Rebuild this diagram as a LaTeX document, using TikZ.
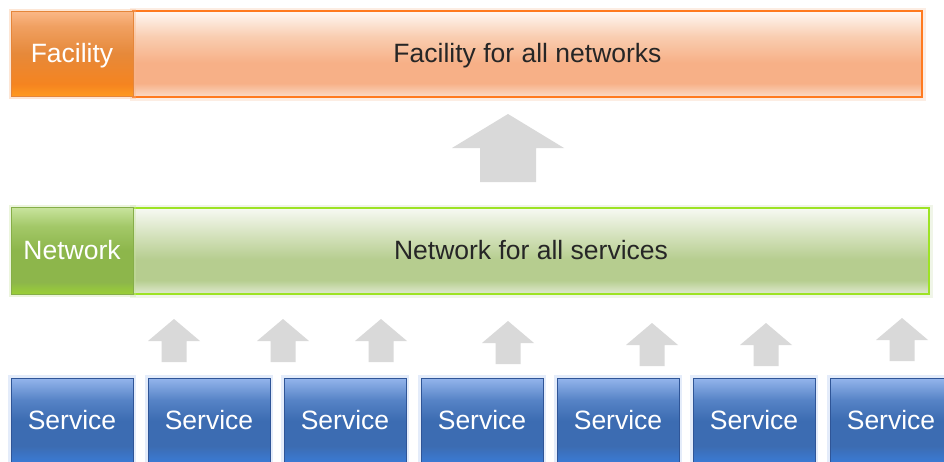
\documentclass[tikz,border=0pt]{standalone}
\usepackage{fontspec}
\setmainfont{Liberation Sans}
\definecolor{fl0}{HTML}{FBB887}
\definecolor{fl1}{HTML}{F0A061}
\definecolor{fl2}{HTML}{E6893A}
\definecolor{fl3}{HTML}{F58420}
\definecolor{fl4}{HTML}{FF9A20}
\definecolor{fm0}{HTML}{FFF8F4}
\definecolor{fm1}{HTML}{F9CDB0}
\definecolor{fm2}{HTML}{F7B087}
\definecolor{fm3}{HTML}{FBDCC8}
\definecolor{nl0}{HTML}{C9E49E}
\definecolor{nl1}{HTML}{A3C868}
\definecolor{nl2}{HTML}{8DB64B}
\definecolor{nl3}{HTML}{9ACF36}
\definecolor{nm0}{HTML}{F7F9F3}
\definecolor{nm1}{HTML}{D6E3BF}
\definecolor{nm2}{HTML}{B6CD8F}
\definecolor{nm3}{HTML}{E0EAD0}
\definecolor{sv0}{HTML}{94B5EC}
\definecolor{sv1}{HTML}{5683C6}
\definecolor{sv2}{HTML}{3C6CB2}
\definecolor{sv3}{HTML}{3A7BD6}
\definecolor{facborder}{HTML}{FF7A1F}
\definecolor{faclborder}{HTML}{E5863A}
\definecolor{netborder}{HTML}{9DE324}
\definecolor{netlborder}{HTML}{86AE48}
\definecolor{svborder}{HTML}{2F5597}
\definecolor{arrowgray}{HTML}{D9D9D9}
\definecolor{maintext}{HTML}{262626}
\pgfdeclareverticalshading{facLabShade}{100bp}{color(0bp)=(fl4); color(25bp)=(fl4); color(32bp)=(fl3); color(50bp)=(fl2); color(66bp)=(fl1); color(75bp)=(fl0); color(100bp)=(fl0)}
\pgfdeclareverticalshading{facMainShade}{100bp}{color(0bp)=(fm3); color(25bp)=(fm3); color(33bp)=(fm2); color(45bp)=(fm2); color(60bp)=(fm1); color(75bp)=(fm0); color(100bp)=(fm0)}
\pgfdeclareverticalshading{netLabShade}{100bp}{color(0bp)=(nl3); color(25bp)=(nl3); color(32bp)=(nl2); color(50bp)=(nl2); color(64bp)=(nl1); color(75bp)=(nl0); color(100bp)=(nl0)}
\pgfdeclareverticalshading{netMainShade}{100bp}{color(0bp)=(nm3); color(25bp)=(nm3); color(33bp)=(nm2); color(45bp)=(nm2); color(60bp)=(nm1); color(75bp)=(nm0); color(100bp)=(nm0)}
\pgfdeclareverticalshading{svShade}{100bp}{color(0bp)=(sv3); color(25bp)=(sv3); color(35bp)=(sv2); color(50bp)=(sv2); color(62bp)=(sv1); color(75bp)=(sv0); color(100bp)=(sv0)}
\tikzset{
  boxbase/.style={rectangle, inner sep=0pt, text height=19.5pt, text depth=2.5pt,
    font=\fontsize{26.5}{30}\selectfont},
  faclabel/.style={boxbase, shading=facLabShade, draw=faclborder, line width=1pt, text=white,
    preaction={draw=fl0, line width=5pt, opacity=0.35}},
  facmain/.style={boxbase, shading=facMainShade, draw=facborder, line width=2pt, text=maintext,
    preaction={draw=fm1, line width=7pt, opacity=0.35}},
  netlabel/.style={boxbase, shading=netLabShade, draw=netlborder, line width=1pt, text=white,
    preaction={draw=nl0, line width=5pt, opacity=0.35}},
  netmain/.style={boxbase, shading=netMainShade, draw=netborder, line width=2pt, text=maintext,
    preaction={draw=nm1, line width=7pt, opacity=0.35}},
  servicebox/.style={boxbase, shading=svShade, draw=svborder, line width=1pt, text=white,
    minimum width=122pt, minimum height=85pt,
    preaction={draw=sv0, line width=6pt, opacity=0.25}},
  smallarrow/.pic={\fill[arrowgray] (0,0) -- (26,22) -- (12.5,22) -- (12.5,43) -- (-12.5,43) -- (-12.5,22) -- (-26,22) -- cycle;},
  bigarrow/.pic={\fill[arrowgray] (0,0) -- (56,34) -- (28,34) -- (28,68) -- (-28,68) -- (-28,34) -- (-56,34) -- cycle;}
}
\begin{document}
\begin{tikzpicture}[x=1pt,y=-1pt]
\useasboundingbox (0,0) rectangle (944,461);
\clip (0,0) rectangle (944,461);
\fill[white] (0,0) rectangle (944,461);
% facility row
\node[facmain, minimum width=789pt, minimum height=86pt] (facmain) at (527.5,54) {Facility for all networks};
\node[faclabel, minimum width=122pt, minimum height=85pt] (faclab) at (72,53.5) {Facility};
% big arrow
\pic at (508,114) {bigarrow};
% network row
\node[netmain, minimum width=796pt, minimum height=86pt] (netmain) at (531,251) {Network for all services};
\node[netlabel, minimum width=122pt, minimum height=87pt] (netlab) at (72,250.5) {Network};
% small arrows
\pic at (174,319) {smallarrow};
\pic at (283,319) {smallarrow};
\pic at (381,319) {smallarrow};
\pic at (508,321) {smallarrow};
\pic at (652,323) {smallarrow};
\pic at (766,323) {smallarrow};
\pic at (902,318) {smallarrow};
% services
\node[servicebox] (s1) at (72,420.5) {Service};
\node[servicebox] (s2) at (209,420.5) {Service};
\node[servicebox] (s3) at (345,420.5) {Service};
\node[servicebox] (s4) at (482,420.5) {Service};
\node[servicebox] (s5) at (618,420.5) {Service};
\node[servicebox] (s6) at (754,420.5) {Service};
\node[servicebox] (s7) at (891,420.5) {Service};
\end{tikzpicture}
\end{document}
